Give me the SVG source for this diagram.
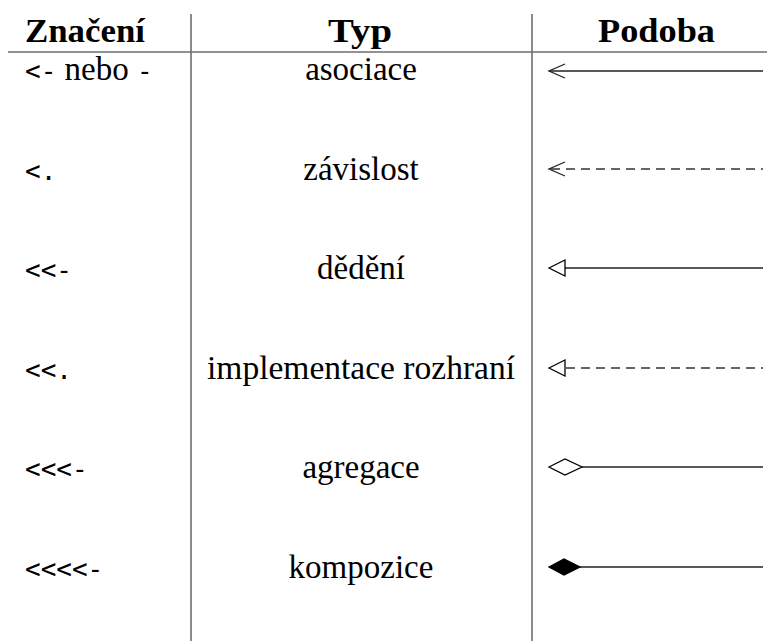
<svg xmlns="http://www.w3.org/2000/svg" width="767" height="641" viewBox="0 0 767 641">
<style>
.grid{stroke:#6e6e6e;stroke-width:1.6;fill:none}
.h{font-family:"Liberation Serif","DejaVu Serif",serif;font-weight:bold;font-size:33px;fill:#000}
.t{font-family:"Liberation Serif","DejaVu Serif",serif;font-size:33px;fill:#000;text-anchor:middle}
.s{font-family:"Liberation Serif","DejaVu Serif",serif;font-size:33px;fill:#000}
.m{font-family:"DejaVu Sans Mono","Liberation Mono",monospace;font-size:26px;fill:#000}
.ln{stroke:#222;stroke-width:1.3;fill:none}
.dash{stroke:#333;stroke-width:1.6;fill:none;stroke-dasharray:9 6}
.open{stroke:#000;stroke-width:1.3;fill:#fff}
.fill{stroke:#000;stroke-width:1.3;fill:#000}
</style>
<rect width="767" height="641" fill="#fff"/>
<g id="table">
<line class="grid" x1="191" y1="14" x2="191" y2="641"/>
<line class="grid" x1="532" y1="14" x2="532" y2="641"/>
<line class="grid" x1="8" y1="52" x2="767" y2="52"/>
</g>
<g id="header">
<text class="h" x="25" y="42" textLength="120" lengthAdjust="spacingAndGlyphs">Značení</text>
<text class="h" x="328" y="42" textLength="64" lengthAdjust="spacingAndGlyphs">Typ</text>
<text class="h" x="598" y="42" textLength="117" lengthAdjust="spacingAndGlyphs">Podoba</text>
</g>
<g id="row-asociace">
<text x="25" y="80"><tspan class="m">&lt;-</tspan><tspan class="s"> nebo </tspan><tspan class="m">-</tspan></text>
<text class="t" x="361" y="80">asociace</text>
</g>
<g id="row-zavislost">
<text class="m" x="25" y="180">&lt;.</text>
<text class="t" x="361" y="180">závislost</text>
</g>
<g id="row-dedeni">
<text class="m" x="25" y="279">&lt;&lt;-</text>
<text class="t" x="361" y="279">dědění</text>
</g>
<g id="row-implementace">
<text class="m" x="25" y="379">&lt;&lt;.</text>
<text class="t" x="361" y="379" textLength="308" lengthAdjust="spacingAndGlyphs">implementace rozhraní</text>
</g>
<g id="row-agregace">
<text class="m" x="25" y="478">&lt;&lt;&lt;-</text>
<text class="t" x="361" y="478">agregace</text>
</g>
<g id="row-kompozice">
<text class="m" x="25" y="578">&lt;&lt;&lt;&lt;-</text>
<text class="t" x="361" y="578">kompozice</text>
</g>
<g id="connectors">
<line class="ln" x1="549" y1="71" x2="763" y2="71"/>
<polyline class="ln" points="565,64 549,71 565,78"/>
<line class="dash" x1="551" y1="169" x2="763" y2="169"/>
<polyline class="ln" points="565,162 549,169 565,176"/>
<line class="ln" x1="565" y1="268" x2="763" y2="268"/>
<polygon class="open" points="549,268 565,260 565,276"/>
<line class="dash" x1="566" y1="368" x2="763" y2="368"/>
<polygon class="open" points="549,368 565,360 565,376"/>
<line class="ln" x1="582" y1="467" x2="763" y2="467"/>
<polygon class="open" points="549,467 565,459 582,467 565,475"/>
<line class="ln" x1="580" y1="567" x2="763" y2="567"/>
<polygon class="fill" points="549,567 564,559 580,567 564,575"/>
</g>
</svg>
